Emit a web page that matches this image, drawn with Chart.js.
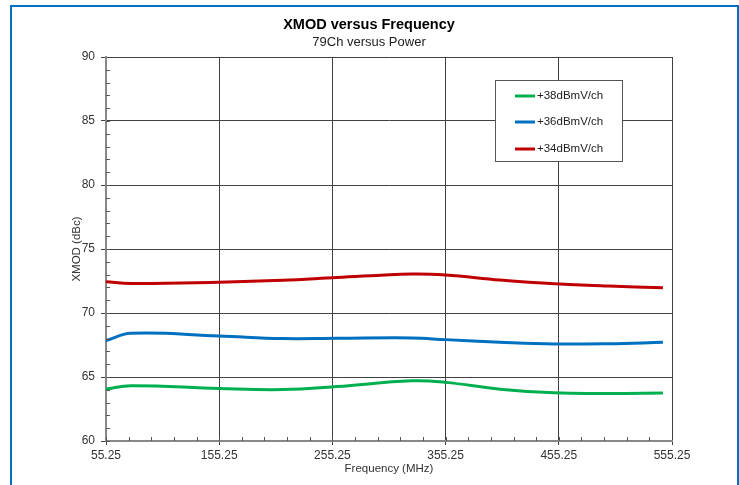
<!DOCTYPE html>
<html>
<head>
<meta charset="utf-8">
<script src="https://cdn.jsdelivr.net/npm/chart.js@4.4.1/dist/chart.umd.min.js"></script>
<style>
    html, body { margin: 0; padding: 0; background: #fff; }
    #wrap { position: relative; width: 739px; height: 485px; }
    #frame { position: absolute; left: 10px; top: 5px; width: 729px; height: 500px; box-sizing: border-box; border: 2px solid #0070c0; pointer-events: none; }
</style>
</head>
<body>
<div id="wrap">
    <canvas id="myChart" width="739" height="485"></canvas>
    <div id="frame"></div>
</div>
<script>
// frequencies (MHz)
var freqs = [55.25, 77.25, 155.25, 211.25, 259.25, 325.25, 355.25, 403.25, 451.25, 499.25, 547.25];

// XMOD (dBc) per power level
var xmod38 = [64.06, 64.32, 64.10, 64.02, 64.25, 64.70, 64.58, 64.05, 63.76, 63.72, 63.75];
var xmod36 = [67.84, 68.41, 68.20, 68.00, 68.02, 68.05, 67.92, 67.72, 67.58, 67.60, 67.71];
var xmod34 = [72.45, 72.30, 72.40, 72.55, 72.77, 73.05, 72.97, 72.58, 72.28, 72.10, 71.98];

var seriesName = ['+38dBmV/ch', '+36dBmV/ch', '+34dBmV/ch'];
var seriesColor = ['#00b050', '#0070c0', '#c00000'];

var xTicks = [55.25, 155.25, 255.25, 355.25, 455.25, 555.25];
var yTicks = [60, 65, 70, 75, 80, 85, 90];

var FONT = '"Liberation Sans", Arial, sans-serif';

function toPoints(ys) {
    return freqs.map(function (f, i) { return { x: f, y: ys[i] }; });
}

var datasets = [xmod38, xmod36, xmod34].map(function (ys, i) {
    return {
        label: seriesName[i],
        data: toPoints(ys),
        borderColor: seriesColor[i],
        backgroundColor: seriesColor[i],
        borderWidth: 3,
        pointRadius: 0,
        tension: 0.4,
        fill: false
    };
});

// minor ticks inside the plot
var minorTicks = {
    id: 'minorTicks',
    afterDatasetsDraw: function (chart) {
        var ctx = chart.ctx, x = chart.scales.x, y = chart.scales.y;
        var bottom = chart.chartArea.bottom, left = chart.chartArea.left;
        ctx.save();
        ctx.strokeStyle = '#555';
        ctx.lineWidth = 1;
        ctx.beginPath();
        for (var v = 55.25; v < 555.25; v += 20) {
            var px = Math.round(x.getPixelForValue(v)) + 0.5;
            ctx.moveTo(px, bottom);
            ctx.lineTo(px, bottom - 4);
        }
        for (var w = 60; w < 90; w += 1) {
            var py = Math.round(y.getPixelForValue(w)) + 0.5;
            ctx.moveTo(left, py);
            ctx.lineTo(left + 4, py);
        }
        ctx.stroke();
        ctx.restore();
    }
};

// legend box inside the plot
var boxLegend = {
    id: 'boxLegend',
    afterDraw: function (chart) {
        var ctx = chart.ctx;
        var bx = 495, by = 80, bw = 127, bh = 81;
        ctx.save();
        ctx.fillStyle = '#fff';
        ctx.fillRect(bx, by, bw, bh);
        ctx.strokeStyle = '#555';
        ctx.lineWidth = 1;
        ctx.strokeRect(bx + 0.5, by + 0.5, bw, bh);
        ctx.font = '11.5px ' + FONT;
        ctx.textBaseline = 'middle';
        var rows = [96, 122, 149];
        chart.data.datasets.forEach(function (ds, i) {
            ctx.strokeStyle = ds.borderColor;
            ctx.lineWidth = 3;
            ctx.beginPath();
            ctx.moveTo(515, rows[i]);
            ctx.lineTo(535, rows[i]);
            ctx.stroke();
            ctx.fillStyle = '#222';
            ctx.fillText(ds.label, 537, rows[i]);
        });
        ctx.restore();
    }
};

var config = {
    type: 'line',
    data: { datasets: datasets },
    options: {
        responsive: false,
        animation: false,
        layout: { padding: { left: 66, right: 67, top: 0, bottom: 0 } },
        plugins: {
            legend: { display: false },
            tooltip: { enabled: false },
            title: {
                display: true,
                text: 'XMOD versus Frequency',
                color: '#000',
                font: { family: FONT, size: 14.5, weight: 'bold' },
                padding: { top: 16, bottom: 0 }
            },
            subtitle: {
                display: true,
                text: '79Ch versus Power',
                color: '#222',
                font: { family: FONT, size: 13 },
                padding: { top: 1, bottom: 7 }
            }
        },
        scales: {
            x: {
                type: 'linear',
                min: 55.25,
                max: 555.25,
                afterBuildTicks: function (scale) {
                    scale.ticks = xTicks.map(function (v) { return { value: v }; });
                },
                afterFit: function (scale) { scale.height = 44; },
                grid: { color: '#404040', lineWidth: 1, tickLength: 4 },
                border: { color: '#888', width: 2 },
                ticks: {
                    color: '#333',
                    padding: 3,
                    maxRotation: 0,
                    font: { family: FONT, size: 12 },
                    callback: function (v) { return v.toFixed(2); }
                },
                title: {
                    display: true,
                    text: 'Frequency (MHz)',
                    color: '#333',
                    font: { family: FONT, size: 11.5 },
                    padding: { top: 0, bottom: 9 }
                }
            },
            y: {
                min: 60,
                max: 90,
                afterBuildTicks: function (scale) {
                    scale.ticks = yTicks.map(function (v) { return { value: v }; });
                },
                afterFit: function (scale) { scale.width = 40; },
                grid: { color: '#404040', lineWidth: 1, tickLength: 5 },
                border: { color: '#888', width: 2 },
                ticks: {
                    color: '#333',
                    padding: 6,
                    font: { family: FONT, size: 12 }
                },
                title: {
                    display: true,
                    text: 'XMOD (dBc)',
                    color: '#333',
                    font: { family: FONT, size: 11.5 },
                    padding: { top: 4, bottom: 4 }
                }
            }
        }
    },
    plugins: [minorTicks, boxLegend]
};

new Chart(document.getElementById('myChart'), config);
</script>
</body>
</html>
